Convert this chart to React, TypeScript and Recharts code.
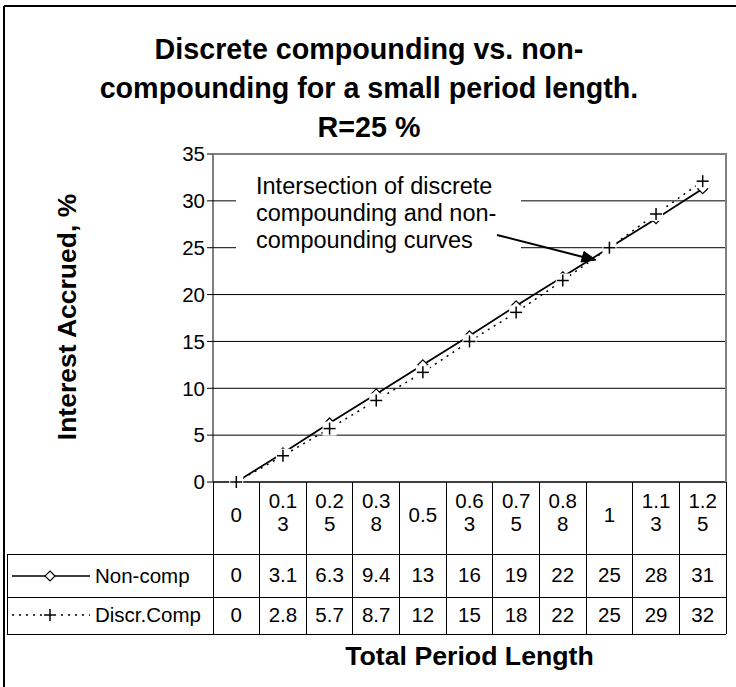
import React from 'react';
import { LineChart, Line, XAxis, YAxis, CartesianGrid } from 'recharts';

// ---------- data ----------
const categories = ['0', '0.13', '0.25', '0.38', '0.5', '0.63', '0.75', '0.88', '1', '1.13', '1.25'];
const nonCompValues = [0, 3.1, 6.3, 9.4, 12.5, 15.6, 18.8, 21.9, 25, 28.1, 31.3];
const discreteValues = [0, 2.8, 5.7, 8.7, 11.7, 15.0, 18.1, 21.5, 25, 28.6, 32.1];
const nonCompLabels = ['0', '3.1', '6.3', '9.4', '13', '16', '19', '22', '25', '28', '31'];
const discreteLabels = ['0', '2.8', '5.7', '8.7', '12', '15', '18', '22', '25', '29', '32'];
const yTicks = [0, 5, 10, 15, 20, 25, 30, 35];
const seriesNames = ['Non-comp', 'Discr.Comp'];
const titleLines = ['Discrete compounding vs. non-', 'compounding for a small period length.', 'R=25 %'];
const annotationLines = ['Intersection of discrete', 'compounding and non-', 'compounding curves'];
const xTitle = 'Total Period Length';
const yTitle = 'Interest Accrued, %';

const data = categories.map((c, i) => ({ cat: c, nonComp: nonCompValues[i], discrete: discreteValues[i] }));

// ---------- layout ----------
const W = 736;
const H = 687;
const PLOT_L = 213;
const PLOT_R = 726;
const PLOT_T = 154;
const PLOT_B = 482;
const COL_W = (PLOT_R - PLOT_L) / categories.length;
const HEADER_H = 72;
const ROW1_H = 43;
const ROW2_H = 37;
const TABLE_H = HEADER_H + ROW1_H + ROW2_H;
const LEGEND_L = 7;
const FONT = 'Arial, "Liberation Sans", Helvetica, sans-serif';
const TABLE_FS = 20.5;

function DiamondDot(props: any) {
  const { cx, cy } = props;
  if (cx == null || cy == null) return null;
  const s = 5;
  return (
    <path
      d={`M${cx},${cy - s} L${cx + s},${cy} L${cx},${cy + s} L${cx - s},${cy} Z`}
      fill="#fff"
      stroke="#000"
      strokeWidth={1.2}
    />
  );
}

function PlusDot(props: any) {
  const { cx, cy } = props;
  if (cx == null || cy == null) return null;
  const a = 6;
  return (
    <g>
      <rect x={cx - 7} y={cy - 7} width={14} height={14} fill="#fff" />
      <line x1={cx - a} y1={cy} x2={cx + a} y2={cy} stroke="#000" strokeWidth={1.5} />
      <line x1={cx} y1={cy - a} x2={cx} y2={cy + a} stroke="#000" strokeWidth={1.5} />
    </g>
  );
}

function TableTick(props: any) {
  const { x, y, payload } = props;
  const i: number = payload && payload.index != null ? payload.index : props.index;
  const label = String(payload.value);
  const lines = label.length > 3 ? [label.slice(0, 3), label.slice(3)] : [label];
  const left = x - COL_W / 2;
  const right = x + COL_W / 2;
  const r1 = y + HEADER_H;
  const r2 = r1 + ROW1_H;
  const r3 = r2 + ROW2_H;
  const tableRight = left + (categories.length - i) * COL_W;
  const txt = { fontSize: TABLE_FS, fontFamily: FONT, fill: '#000', textAnchor: 'middle' as const };
  const ln = { stroke: '#000', strokeWidth: 1, shapeRendering: 'crispEdges' as const };
  const legY1 = r1 + 22;
  const legY2 = r2 + 18;
  return (
    <g>
      {lines.length === 2 ? (
        <>
          <text x={x} y={y + 26} {...txt}>{lines[0]}</text>
          <text x={x} y={y + 49.3} {...txt}>{lines[1]}</text>
        </>
      ) : (
        <text x={x} y={y + 40.3} {...txt}>{lines[0]}</text>
      )}
      <text x={x} y={r1 + 28.3} {...txt}>{nonCompLabels[i]}</text>
      <text x={x} y={r2 + 25} {...txt}>{discreteLabels[i]}</text>
      <line x1={right} y1={y} x2={right} y2={r3} {...ln} />
      {i === 0 && (
        <g>
          <line x1={left} y1={y} x2={left} y2={r3} {...ln} />
          <line x1={LEGEND_L} y1={r1} x2={tableRight} y2={r1} {...ln} />
          <line x1={LEGEND_L} y1={r2} x2={tableRight} y2={r2} {...ln} />
          <line x1={LEGEND_L} y1={r3} x2={tableRight} y2={r3} {...ln} />
          <line x1={LEGEND_L} y1={r1} x2={LEGEND_L} y2={r3} {...ln} />
          {/* legend: Non-comp */}
          <line x1={12} y1={legY1} x2={90} y2={legY1} stroke="#000" strokeWidth={1.5} />
          <DiamondDot cx={50} cy={legY1} />
          <text x={95} y={legY1 + 7.3} fontSize={TABLE_FS} fontFamily={FONT} fill="#000">{seriesNames[0]}</text>
          {/* legend: Discr.Comp */}
          <line x1={12} y1={legY2} x2={90} y2={legY2} stroke="#000" strokeWidth={1.5} strokeDasharray="2 5" />
          <PlusDot cx={50} cy={legY2} />
          <text x={95} y={legY2 + 7.3} fontSize={TABLE_FS} fontFamily={FONT} fill="#000">{seriesNames[1]}</text>
        </g>
      )}
    </g>
  );
}

export default function App() {
  return (
    <div style={{ position: 'absolute', left: 0, top: 0, width: W, height: H, background: '#fff', overflow: 'hidden', fontFamily: FONT }}>
      <LineChart
        width={W}
        height={H}
        data={data}
        margin={{ top: PLOT_T, right: W - PLOT_R, bottom: H - PLOT_B - TABLE_H, left: 0 }}
        style={{ fontFamily: FONT }}
      >
        <CartesianGrid horizontal vertical={false} stroke="#000" strokeWidth={1} strokeDasharray="" />
        <XAxis
          dataKey="cat"
          height={TABLE_H}
          interval={0}
          tickSize={0}
          tickMargin={0}
          tickLine={false}
          axisLine={{ stroke: '#000', strokeWidth: 1 }}
          padding={{ left: COL_W / 2, right: COL_W / 2 }}
          tick={(p: any) => <TableTick {...p} />}
        />
        <YAxis
          width={PLOT_L}
          domain={[0, 35]}
          ticks={yTicks}
          interval={0}
          tickSize={6}
          tickMargin={2}
          axisLine={{ stroke: '#000', strokeWidth: 1 }}
          tickLine={{ stroke: '#000', strokeWidth: 1 }}
          tick={{ fontSize: TABLE_FS, fill: '#000', fontFamily: FONT }}
        />
        <Line
          dataKey="nonComp"
          name={seriesNames[0]}
          stroke="#000"
          strokeWidth={1.8}
          dot={(p: any) => <DiamondDot key={`d${p.index}`} {...p} />}
          activeDot={false}
          isAnimationActive={false}
        />
        <Line
          dataKey="discrete"
          name={seriesNames[1]}
          stroke="#000"
          strokeWidth={1.5}
          strokeDasharray="2 5"
          dot={(p: any) => <PlusDot key={`p${p.index}`} {...p} />}
          activeDot={false}
          isAnimationActive={false}
        />
      </LineChart>
      <svg
        width={W}
        height={H}
        style={{ position: 'absolute', left: 0, top: 0, pointerEvents: 'none' }}
      >
        {/* outer chart border */}
        <line x1={4} y1={6} x2={W} y2={6} stroke="#000" strokeWidth={2} />
        <line x1={4} y1={6} x2={4} y2={H} stroke="#000" strokeWidth={2} />
        {/* plot area border (top/right) */}
        <line x1={PLOT_L} y1={PLOT_T} x2={PLOT_R + 1} y2={PLOT_T} stroke="#808080" strokeWidth={2} />
        <line x1={PLOT_R} y1={PLOT_T} x2={PLOT_R} y2={PLOT_B} stroke="#808080" strokeWidth={2} />
        {/* title */}
        {titleLines.map((t, i) => (
          <text key={i} x={369} y={59 + i * 39} textAnchor="middle" fontSize={28.7} fontWeight="bold" fontFamily={FONT} fill="#000">
            {t}
          </text>
        ))}
        {/* annotation */}
        <rect x={236} y={172} width={285} height={84} fill="#fff" />
        {annotationLines.map((t, i) => (
          <text key={i} x={256} y={193.6 + i * 27} fontSize={23.5} fontFamily={FONT} fill="#000">
            {t}
          </text>
        ))}
        <line x1={497} y1={235} x2={584} y2={257.2} stroke="#000" strokeWidth={2} />
        <path d="M596,260 L581,262 L584,251.5 Z" fill="#000" stroke="#000" strokeWidth={1} />
        {/* axis titles */}
        <text x={(PLOT_L + PLOT_R) / 2} y={665} textAnchor="middle" fontSize={26.7} fontWeight="bold" fontFamily={FONT} fill="#000">
          {xTitle}
        </text>
        <text
          transform="translate(76, 317) rotate(-90)"
          textAnchor="middle"
          fontSize={26.5}
          fontWeight="bold"
          fontFamily={FONT}
          fill="#000"
        >
          {yTitle}
        </text>
      </svg>
    </div>
  );
}
